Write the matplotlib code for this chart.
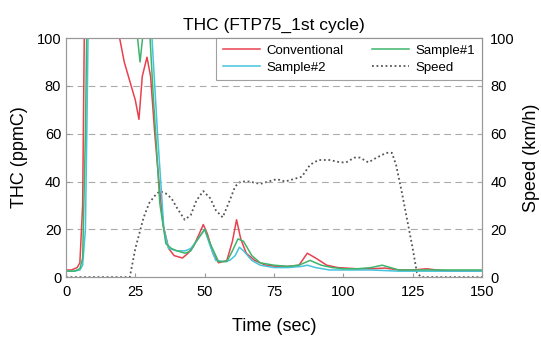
import matplotlib.pyplot as plt

plt.rcParams['font.family'] = ['Liberation Sans', 'DejaVu Sans']

# Conventional (red)
t_conv = [0, 2, 4, 5, 6, 7, 8, 19.5, 21, 23, 25, 26.3, 27.5, 29.2, 30.5, 32, 33.5, 35, 37, 39,
          42, 44, 46, 48, 49.5, 51, 53, 55, 58, 60, 61.5, 63, 65, 68, 72, 76, 80, 84, 87, 90,
          94, 98, 105, 110, 115, 120, 125, 130, 135, 140, 150]
thc_conv = [3, 3, 4, 6, 30, 150, 150, 99, 90, 82, 74, 66, 84, 92, 84, 60, 40, 22, 12, 9,
            8, 10, 13, 18, 22, 18, 10, 6, 7, 15, 24, 16, 10, 7, 5, 4.5, 4.5, 5, 10, 8,
            5, 4, 3.5, 3.5, 3.8, 3, 3, 3.5, 2.8, 2.5, 2.5]

# Sample#1 (green)
t_s1 = [0, 3, 5, 6, 7, 8, 25.8, 26.7, 27.6, 28, 30.3, 31.5, 32.6, 33.8, 36, 38, 40, 43, 45,
        47, 50, 52, 55, 58, 60, 62, 64, 67, 70, 75, 80, 84, 88, 92, 96, 100, 105, 110, 114,
        117, 120, 125, 130, 140, 150]
thc_s1 = [2.5, 2.5, 3.5, 8, 60, 150, 100, 90, 100, 150, 100, 75, 55, 31, 14, 12, 11, 10, 11,
          15, 20, 14, 6.5, 6.5, 11, 16, 15, 9, 6, 5, 4.5, 5, 7, 5, 4, 3.5, 3.5, 4, 5,
          4, 3, 3, 3, 3, 3]

# Sample#2 (cyan)
t_s2 = [0, 3, 5, 6, 7, 7.5, 8.5, 30.5, 31, 33, 35.3, 37, 40, 43, 45, 47, 50, 52, 54, 57,
        59, 61, 62.5, 64, 67, 70, 75, 80, 85, 87, 90, 95, 100, 110, 120, 130, 150]
thc_s2 = [2.5, 2.5, 3, 5, 20, 60, 150, 150, 100, 60, 20, 12, 11, 11, 12, 15, 20, 13, 7, 6.5,
          7, 9, 12.5, 11, 7, 5, 4, 4, 4.5, 5, 4, 3, 3, 3, 2.5, 2.5, 2.5]

# Speed (dotted, right axis)
t_spd = [0, 23, 25, 28, 30, 32, 33.8, 36, 38, 40, 42.8, 45, 47, 49.5, 52, 54, 56.5, 59, 61,
         63, 66, 70, 73, 76, 79, 82, 85, 88, 91, 95, 99, 101, 104, 106, 109, 112, 115.5,
         117.5, 119, 121, 123, 125, 126.5, 128, 140, 150]
speed = [0, 0, 12, 25, 31, 34, 36, 35, 33, 29, 24, 26, 32, 36, 33, 28, 25, 32, 38,
         40, 40, 39, 40, 41, 40, 41, 42, 47, 49, 49, 48, 48, 50, 50, 48, 50, 52,
         52, 47, 36, 24, 12, 2, 0, 0, 0]

fig = plt.figure(figsize=(5.41, 3.43), dpi=100)
ax = fig.add_axes([0.122, 0.192, 0.769, 0.697])
ax2 = ax.twinx()

ax.set_zorder(ax2.get_zorder() + 1)
ax.patch.set_visible(False)

l_conv, = ax.plot(t_conv, thc_conv, color='#e8414f', lw=1.1, label='Conventional')
l_s2, = ax.plot(t_s2, thc_s2, color='#45c4dc', lw=1.1, label='Sample#2')
l_s1, = ax.plot(t_s1, thc_s1, color='#3fb56b', lw=1.1, label='Sample#1')
l_spd, = ax2.plot(t_spd, speed, color='#555555', lw=1.3, ls=(0, (1, 1.5)), label='Speed')

for y in [20, 40, 60, 80]:
    ax.axhline(y, color='#aaaaaa', lw=0.8, ls=(0, (6, 4)), zorder=0)

ax.set_xlim(0, 150)
ax.set_ylim(0, 100)
ax2.set_ylim(0, 100)
ax.set_xticks([0, 25, 50, 75, 100, 125, 150])
ax.set_yticks([0, 20, 40, 60, 80, 100])
ax2.set_yticks([0, 20, 40, 60, 80, 100])

for a in (ax, ax2):
    for s in a.spines.values():
        s.set_color('#999999')
    a.tick_params(labelsize=10.5, direction='in', length=3, color='#999999')
ax.tick_params(axis='x', pad=6)
ax2.tick_params(axis='y', pad=6)

ax.set_title('THC (FTP75_1st cycle)', fontsize=12.5, pad=6)
ax.set_xlabel('Time (sec)', fontsize=13, labelpad=13)
ax.set_ylabel('THC (ppmC)', fontsize=13, labelpad=6)
ax2.set_ylabel('Speed (km/h)', fontsize=13, labelpad=6)

leg = ax.legend(handles=[l_conv, l_s2, l_s1, l_spd], ncol=2, loc='upper right',
                bbox_to_anchor=(1.0, 1.0), fontsize=9.5, frameon=True, fancybox=False,
                borderaxespad=0, handlelength=2.8, columnspacing=2.2, labelspacing=0.35,
                handletextpad=0.5, borderpad=0.5)
leg.get_frame().set_edgecolor('#888888')
leg.get_frame().set_linewidth(0.8)

fig.savefig('out.png', dpi=100)
